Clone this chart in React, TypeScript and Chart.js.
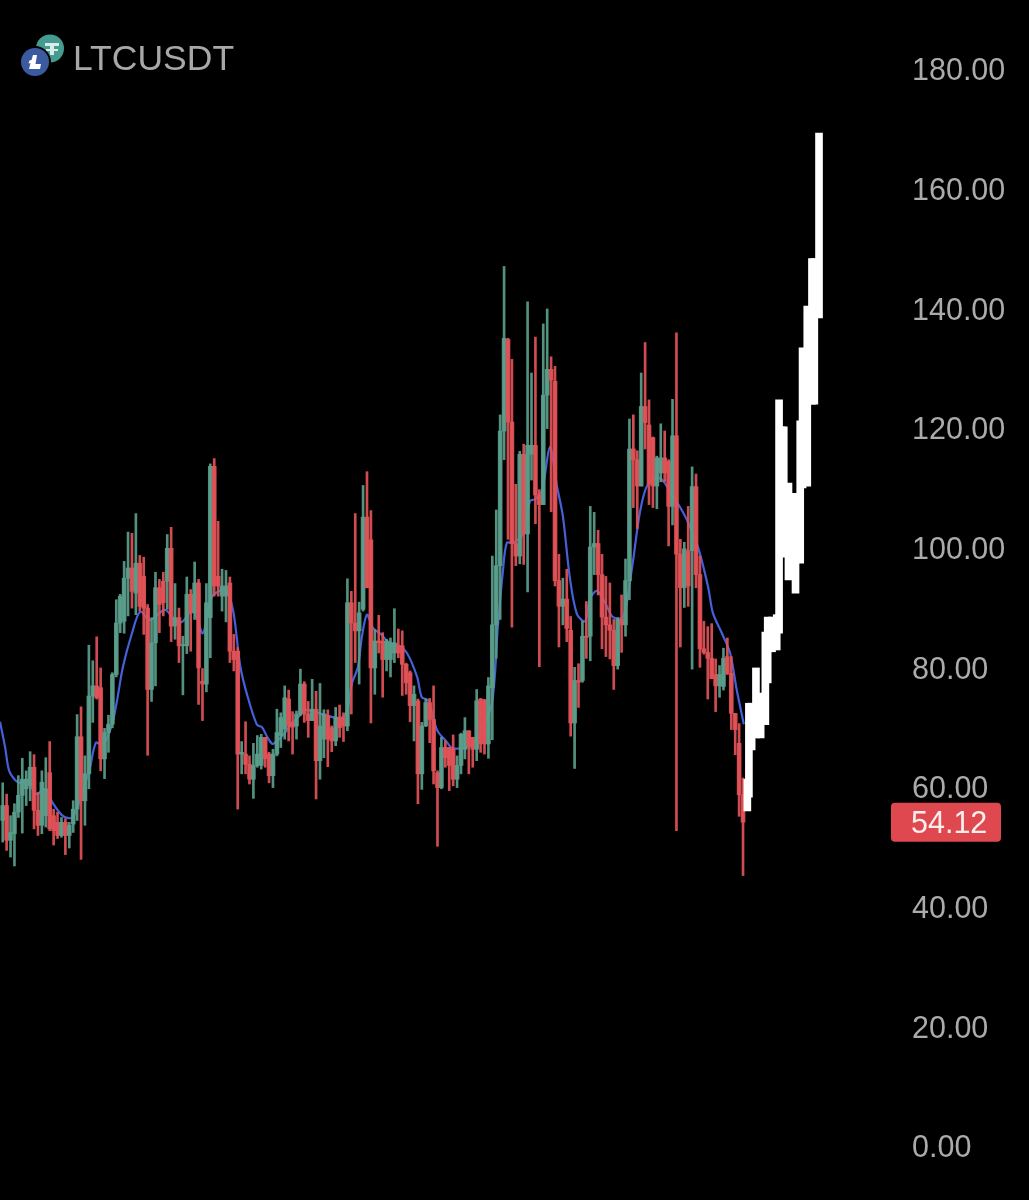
import React, { useEffect, useRef } from "react";
import { Chart, registerables } from "chart.js";

Chart.register(...registerables);

const symbol = "LTCUSDT";
const lastPrice = 54.12;
const tickValues = [0, 20, 40, 60, 80, 100, 120, 140, 160, 180];

const opens = [54.4,56.9,51.1,52.2,55.8,58.6,59.7,60.2,63.3,56.1,53.6,55.2,62.4,55.2,54.1,51.9,54.1,51.9,53.8,56.3,68.4,57.7,62.2,75.2,76.9,76.6,64.7,69.1,70.5,78.8,87.4,87.7,94.9,96.6,92.4,97.4,95.2,89.9,76.3,84.1,93.3,94.4,94.4,99.9,86.9,88.3,83.6,83.6,92.2,89.1,94.1,77.7,77.2,88.3,113.6,95.2,91.9,91.9,94.1,82.7,82.7,65.5,65.5,63.8,61.3,63.6,63.6,68.3,65.5,61.9,65.5,68.6,69.7,74.7,70.8,70.2,72.2,77.2,72.2,71.1,73,64.4,68,71.9,69.9,67.7,71.6,71.6,70.2,90.8,87.4,86.1,89.7,105.1,101.3,79.9,84.4,84.4,81.3,81.3,82.4,83.6,83.6,80.5,79.1,73.6,74.4,62.2,70.2,74.1,71.3,62.4,59.9,66.6,66.6,66.3,61.3,63.6,66.3,69.4,68.3,66.3,74.7,74.6,67.2,76.6,87.1,97,119.5,134.8,121,100.7,98.6,115.6,102.3,115.6,117.1,108.8,107.2,125.5,129.8,127.8,94.5,90.2,91.4,86.2,70.7,77.8,77.8,85.2,85.2,100.1,100.7,95.5,88.4,87.1,86.2,80.3,88,87.1,94.5,116.5,114.7,110.3,123.6,120.5,118.4,110.3,112.5,115,114.4,106.9,118.7,98.9,93.3,99.5,99.5,110.2,95.5,83.1,82.5,81.5,78.8,76.9,76.8,81.8,79,72.3,67.3,58.7];
const closes = [56.9,51.1,52.4,55.8,58.6,61.3,61.3,63.3,56.1,53.6,60.8,59.7,53,52.7,51.9,54.1,51.9,53.6,56.3,68.4,57.7,62.2,75.2,76.9,74.9,64.7,69.1,70.5,78.8,87.4,91.9,94.9,96.6,92.7,97.4,90.2,89.9,76.3,84.1,93.3,90.5,90.8,99.9,86.9,88.3,83.6,83.8,92.2,89.1,94.1,79.9,77.2,90.8,113.6,93.6,93.6,93.6,93.6,82.7,81.3,65.5,65.8,63.8,61.3,63.6,65.5,68.3,64.7,61.9,65.5,69.1,71.6,74.9,70.2,70,72.2,77.2,72.2,71.1,73,64.4,70.2,72.2,68,67.7,71.6,69.9,70.2,90.8,87.4,86.1,89.1,105.1,93.3,79.9,84.4,84.1,81.3,84.4,84.1,84.1,82.4,80.5,77.4,73.6,75.5,62.2,70.2,74.1,71.3,62.7,59.9,66.6,64.9,63.6,61.3,63.6,68.8,69.4,66.9,66.3,74.4,67.2,67.2,76.9,87.1,97,119.5,135,121,100.7,98.6,115.6,102.3,117.1,117.1,108.8,107.2,125.5,129.8,128,94.5,90.2,91.4,86.5,70.7,77.8,77.5,85.2,85,100.1,100.7,95.5,88.4,87.1,86.2,80.3,88,87.1,94.5,116.5,114.7,110.3,123.6,120.9,110.6,110.3,115,115,112.5,106.9,118.7,98.9,93.3,99.8,93.6,110.2,95.5,83.1,82.5,81.5,78.1,76.9,78.8,81.5,79,72.3,69.6,58.7,lastPrice];
const highs = [60.7,58.8,55.2,57.2,61.9,64.8,62.7,65.9,65.4,59.1,62.7,64.9,67.6,56.3,55.8,54.9,54.7,54.1,57.7,72.1,73.4,65.2,83.7,81.1,85.1,79.9,69.8,72,79.1,91.3,92.2,97.7,102.6,102.4,105.7,98.7,98.4,90.5,88.3,95.9,94.7,95.9,102.2,103.4,94,89.9,85.2,95.1,93,97.6,94.7,79.8,94,114,114.9,104.4,96.4,96.2,95.1,85.5,83.3,67.6,70.9,65.2,67.3,68.6,68.8,68.3,65.8,66.3,73,72.4,76.9,76.2,72.6,72.7,79.7,77.6,74.3,78,76,77.3,72.9,72.9,70.2,73.3,73.7,72.4,94.8,92.7,105.7,90.9,110.4,112.7,106.2,86.3,88.7,85.8,84.7,84.9,89.8,86.4,86.1,80.7,79.4,76.9,74.7,70.8,74.7,74.8,76.9,62.7,68.3,67.7,66.6,68.7,65.2,69,71.6,69.4,68.3,76.3,74.8,74.6,78.3,98.6,106.3,122.2,147,135,131.5,110.6,116.1,117.3,141.1,129.2,135.2,109.7,137.4,139.9,131.9,130.3,98.9,94.9,96.4,88.5,80,80.6,87.7,91,106.9,105.9,102.9,98.9,95.2,94.1,88,88.3,92.1,98.1,121.5,122.2,116.2,129.2,134.3,124.7,118.5,115.3,120.7,119.5,114.7,124.8,135.9,101.4,100.9,106.9,113.5,112.3,98.6,87.7,86.8,87.3,81.4,80.3,83.2,84.9,81.8,72.3,70.6,61.5];
const lows = [50.8,49.4,48.3,46.8,54.9,52.3,56.9,57.7,53,51.9,52.2,53.3,52.7,50.3,51.4,51.6,48.7,49.8,52.4,54.4,47.9,53.6,59.7,70.8,74.7,62.7,61.4,65.8,69.9,78.4,85.8,85.7,88.6,89.9,88.8,89.4,85.5,65.3,74.3,76.9,85.8,88.6,89.7,84.3,84.7,80.8,75.4,82.3,82.7,88,73.8,71.1,75.9,81.6,91.9,91.9,89.4,87.6,80.8,79.4,56.3,62.2,62.2,60.5,58.1,63.3,63,63.3,60.7,59.9,65.2,66.6,68,67.7,65.5,68,71.9,70.8,68.3,71.1,58,61.3,64.9,63.4,65.9,66.9,68.3,67.6,69.4,72.2,80.8,77.2,89.4,93.3,70.7,75.5,82.4,75,79.4,78.4,80.8,81.6,75.3,75.5,70.9,67.7,57.2,59.6,70.1,67.4,60.5,50.1,59.7,63.3,59.4,60.2,59.9,62.2,64.7,62.2,63.3,64.4,65.8,65.5,64.8,67.9,81.5,88,114.7,101.4,86.7,97,97.3,97.2,92.6,111.3,104,80.1,107.2,119.9,106,93.6,83.4,87.1,84.3,68.5,63.1,73.3,77.5,81.5,81.1,95.5,92.1,83.1,81.8,81.4,76.3,79.7,82.5,85.2,91.3,106.7,103.2,110.3,116.5,107.2,106.7,106.5,111,111,100.3,103.8,52.7,83.4,90,90.2,79.7,93.3,80,82.2,74.7,78.1,72.6,75,76.2,78.8,69.6,65.4,55.1,45.2];

const maX = [-0.69,0.6,1.6,3.1,4.4,6.5,7.7,8.8,10.8,12.8,15.1,16.7,18,19.7,22.3,23.8,25.6,27.9,29.2,30.7,33,35.1,37.6,41.4,44,45.8,48.6,51.1,53.4,56.8,58.8,60.6,62.4,64.9,66.2,67.5,68.8,69.5,71.6,73.9,75.9,77.2,86.9,89.2,90.7,91.7,93,94.5,96.8,98.4,100.9,103.2,105.8,107,108.6,110.9,113.4,114.7,117.5,119.8,121.9,124.9,126.4,127.7,128.7,130.3,132.8,134.6,135.9,137.7,139.7,141.5,143,144.8,146.6,148.7,149.9,151.7,153.8,155.8,158.4,160.7,162.7,164.7,167.8,170.9,172.9,174.7,177.5,180.1,181.3,183.6,185.7,187.4,189.2];
const maV = [70.9,66.7,62.8,61.2,60.7,61.2,59.5,58.8,59.7,57.3,55.3,54.8,55,57.8,63.3,67.4,67,70.4,74.5,80.1,85.7,89.3,87.9,89.6,87.9,87.6,89.6,85.7,91.8,92.9,89.6,80.4,75.4,70.4,70,68.4,67.2,67.4,68.7,70.7,72,72.9,71.7,77.4,80.1,85.1,88.8,86.6,85.4,84.2,83.7,82.4,78.4,75,74.5,69.5,67.5,66.5,66.5,67,69,74,86.7,96.1,100.8,100.8,102.3,107.8,108.1,109.6,116.8,110.3,105.3,94.9,88.9,87.7,91.4,92.8,90.8,88.4,88.4,96.8,106,110.6,111.6,108.8,106.8,104.6,100.1,93.4,89.1,85.7,82.4,76.2,70.5];

const projX = [190.1,190.5,191.2,192.3,193.5,194.7,195.3,196.4,197.6,198.2,198.8,199.4,200.6,202.4,203.6,204.2,205.4,206.6,207.2,208.4];
const projLow = [56,58.3,66.2,68.2,68.2,70.4,77.4,82.6,82.9,85.7,100.6,98.4,94.6,92.4,97.4,110,110.3,124,124,138.4];
const projHigh = [61.3,74,74,79.9,75.7,85.9,88.4,88.4,88.8,124.7,120.2,120.2,110.8,109.1,121.2,133.4,140.4,148.3,148.3,169.3];

const GREEN = "rgba(90,158,139,0.92)";
const RED = "rgba(226,82,88,0.92)";
const AXIS_TEXT = "#ababab";
const FONT = '"Liberation Sans", sans-serif';

const overlay = {
  id: "overlay",
  beforeDraw(chart: any) {
    const { ctx, width, height } = chart;
    ctx.save();
    ctx.fillStyle = "#000";
    ctx.fillRect(0, 0, width, height);
    ctx.restore();
  },
  afterDraw(chart: any) {
    const { ctx } = chart;
    const y = chart.scales.y.getPixelForValue(lastPrice);
    ctx.save();
    ctx.fillStyle = "#e0484f";
    ctx.beginPath();
    ctx.roundRect(891, y - 19.5, 110, 39, 4);
    ctx.fill();
    ctx.fillStyle = "#fbeeee";
    ctx.font = `30.5px ${FONT}`;
    ctx.textBaseline = "middle";
    ctx.textAlign = "left";
    ctx.fillText(lastPrice.toFixed(2), 911, y + 2);

    ctx.fillStyle = "#449c90";
    ctx.beginPath();
    ctx.arc(50, 48.5, 14, 0, Math.PI * 2);
    ctx.fill();
    ctx.fillStyle = "#d8ece8";
    ctx.fillRect(45, 43, 14, 3);
    ctx.fillRect(50, 43, 4, 12);
    ctx.fillRect(46, 49, 12, 2);
    ctx.fillStyle = "#000";
    ctx.beginPath();
    ctx.arc(35, 62, 16, 0, Math.PI * 2);
    ctx.fill();
    ctx.fillStyle = "#3b5a9f";
    ctx.beginPath();
    ctx.arc(35, 62, 14, 0, Math.PI * 2);
    ctx.fill();
    ctx.fillStyle = "#fff";
    ctx.beginPath();
    ctx.moveTo(33, 55);
    ctx.lineTo(37, 55);
    ctx.lineTo(35.5, 64);
    ctx.lineTo(41, 64);
    ctx.lineTo(40, 69);
    ctx.lineTo(29, 69);
    ctx.lineTo(30.5, 63);
    ctx.lineTo(28.5, 63.5);
    ctx.lineTo(29.5, 60.5);
    ctx.lineTo(31.5, 60);
    ctx.closePath();
    ctx.fill();

    ctx.fillStyle = "#a8a8a8";
    ctx.font = `35.5px ${FONT}`;
    ctx.textBaseline = "alphabetic";
    ctx.fillText(symbol, 73, 70);
    ctx.restore();
  },
};

export default function App() {
  const ref = useRef<HTMLCanvasElement>(null);
  useEffect(() => {
    document.body.style.margin = "0";
    document.body.style.background = "#000";
    const colors = opens.map((o, i) => (closes[i] >= o ? GREEN : RED));
    const chart = new Chart(ref.current as HTMLCanvasElement, {
      type: "bar",
      plugins: [overlay],
      data: {
        datasets: [
          {
            type: "line",
            order: 3,
            data: maX.map((x, i) => ({ x, y: maV[i] })),
            borderColor: "#4560d8",
            borderWidth: 2.2,
            pointRadius: 0,
            tension: 0.3,
          },
          {
            order: 2,
            data: highs.map((h, i) => ({ x: i, y: [lows[i], h] })),
            backgroundColor: colors,
            barThickness: 2,
            grouped: false,
          },
          {
            order: 1,
            data: opens.map((o, i) => ({ x: i, y: [Math.min(o, closes[i]), Math.max(o, closes[i])] })),
            backgroundColor: colors,
            barThickness: 4,
            grouped: false,
          },
          {
            order: 0,
            data: projX.map((x, i) => ({ x, y: [projLow[i], projHigh[i]] })),
            backgroundColor: "#ffffff",
            barThickness: 7,
            grouped: false,
          },
        ],
      } as any,
      options: {
        responsive: false,
        animation: false,
        events: [],
        layout: { padding: 0 },
        plugins: { legend: { display: false }, tooltip: { enabled: false } },
        scales: {
          x: { type: "linear", display: false, offset: false, min: -0.69, max: 230.35, grid: { display: false } },
          y: {
            position: "right",
            min: -9.03,
            max: 191.54,
            border: { display: false },
            grid: { display: false, drawTicks: false },
            afterBuildTicks: (s: any) => {
              s.ticks = tickValues.map((value) => ({ value }));
            },
            afterFit: (s: any) => {
              s.width = 124;
              s.paddingTop = 0;
              s.paddingBottom = 0;
              s.paddingLeft = 0;
              s.paddingRight = 0;
            },
            ticks: {
              color: AXIS_TEXT,
              padding: 7,
              labelOffset: 3,
              font: { family: FONT, size: 30.5 },
              autoSkip: false,
              callback: (v: any) => Number(v).toFixed(2),
            },
          },
        },
      } as any,
    });
    return () => chart.destroy();
  }, []);
  return (
    <div style={{ width: 1029, height: 1200, background: "#000" }}>
      <canvas ref={ref} width={1029} height={1200} style={{ display: "block" }} />
    </div>
  );
}
